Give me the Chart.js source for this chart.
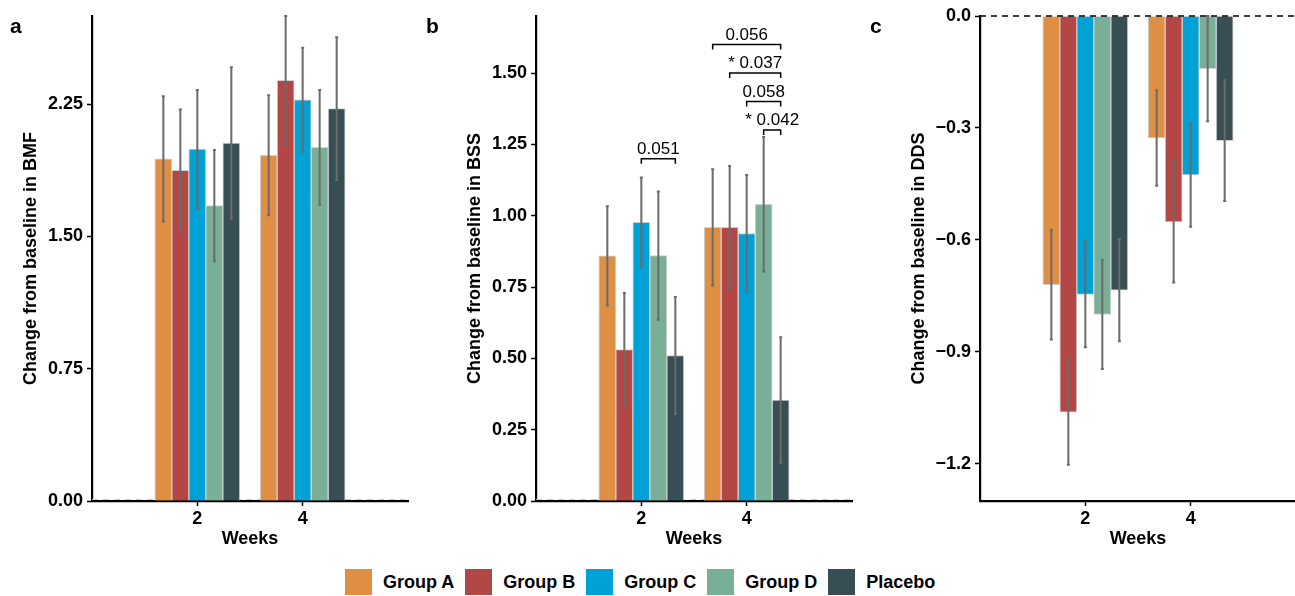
<!DOCTYPE html>
<html>
<head>
<meta charset="utf-8">
<script src="https://cdn.jsdelivr.net/npm/chart.js@4.4.0/dist/chart.umd.min.js"></script>
<style>
  html, body { margin: 0; padding: 0; background: #fff; overflow: hidden; }
  #page { position: relative; width: 1295px; height: 596px; overflow: hidden; font-family: "Liberation Sans", Arial, sans-serif; color: #000; }
  .panel { position: absolute; top: 0; }
  .tag { position: absolute; top: 15px; font-weight: bold; font-size: 21px; line-height: 1; }
  #legend { position: absolute; left: 345px; top: 569px; height: 26px; display: flex; align-items: center; font-weight: bold; font-size: 18px; }
  #legend .box { width: 27px; height: 26px; margin-right: 11px; }
  #legend .lab { margin-right: 11px; white-space: nowrap; }
</style>
</head>
<body>
<div id="page">
  <canvas id="chartA" class="panel" style="left:0px" width="420" height="560"></canvas>
  <canvas id="chartB" class="panel" style="left:444px" width="420" height="560"></canvas>
  <canvas id="chartC" class="panel" style="left:888px" width="420" height="560"></canvas>
  <div class="tag" style="left:10px">a</div>
  <div class="tag" style="left:426px">b</div>
  <div class="tag" style="left:870px">c</div>
  <div id="legend"></div>
</div>
<script>
const weeks = [2, 4];
const groups = ['Group A', 'Group B', 'Group C', 'Group D', 'Placebo'];
const groupColors = ['#DF8F44', '#B24745', '#00A1D5', '#79AF97', '#374E55'];

// panel a - BMF, one row per group: [week 2, week 4]
const bmfMean = [[1.94, 1.96], [1.875, 2.385], [1.995, 2.275], [1.675, 2.005], [2.03, 2.225]];
const bmfErr = [[0.355, 0.34], [0.345, 0.365], [0.335, 0.295], [0.315, 0.325], [0.43, 0.405]];
const bmfTicks = [0, 0.75, 1.5, 2.25];

// panel b - BSS
const bssMean = [[0.859, 0.959], [0.531, 0.959], [0.977, 0.937], [0.86, 1.04], [0.51, 0.354]];
const bssErr = [[0.174, 0.204], [0.198, 0.215], [0.157, 0.206], [0.225, 0.236], [0.205, 0.22]];
const bssTicks = [0, 0.25, 0.5, 0.75, 1.0, 1.25, 1.5];

// panel c - DDS
const ddsMean = [[-0.72, -0.327], [-1.062, -0.552], [-0.746, -0.426], [-0.80, -0.141], [-0.735, -0.334]];
const ddsErr = [[0.147, 0.128], [0.141, 0.162], [0.142, 0.139], [0.146, 0.141], [0.137, 0.162]];
const ddsTicks = [0, -0.3, -0.6, -0.9, -1.2];

// p-value brackets on panel b
const pWeek = [0, 1, 1, 1, 1];      // index into weeks
const pFrom = [2, 0, 1, 2, 3];      // group index
const pTo = [4, 4, 4, 4, 4];
const pLevel = [1.2, 1.6, 1.5, 1.4, 1.3];
const pLabel = ['0.051', '0.056', '* 0.037', '0.058', '* 0.042'];

const FONT = '"Liberation Sans", Arial, sans-serif';
Chart.defaults.font.family = FONT;
Chart.defaults.color = '#000';

function errorBars(errs) {
    return {
        id: 'errorBars',
        afterDatasetsDraw(chart) {
            const ctx = chart.ctx;
            const y = chart.scales.y;
            ctx.save();
            ctx.strokeStyle = '#6b6b6b';
            ctx.lineWidth = 2;
            chart.data.datasets.forEach((ds, i) => {
                chart.getDatasetMeta(i).data.forEach((bar, k) => {
                    const v = ds.data[k].y;
                    const top = y.getPixelForValue(v + errs[i][k]);
                    const bot = y.getPixelForValue(v - errs[i][k]);
                    ctx.beginPath();
                    ctx.moveTo(bar.x, top);
                    ctx.lineTo(bar.x, bot);
                    ctx.moveTo(bar.x - 1.5, top);
                    ctx.lineTo(bar.x + 1.5, top);
                    ctx.moveTo(bar.x - 1.5, bot);
                    ctx.lineTo(bar.x + 1.5, bot);
                    ctx.stroke();
                });
            });
            ctx.restore();
        }
    };
}

function zeroLine(color, onTop) {
    const draw = chart => {
        const ctx = chart.ctx;
        const area = chart.chartArea;
        const y0 = chart.scales.y.getPixelForValue(0) + (onTop ? 0 : -1.5);
        ctx.save();
        ctx.strokeStyle = color;
        ctx.lineWidth = onTop ? 1.3 : 1;
        ctx.setLineDash([6, 5]);
        ctx.beginPath();
        ctx.moveTo(area.left, y0);
        ctx.lineTo(area.right, y0);
        ctx.stroke();
        ctx.restore();
    };
    return onTop ? { id: 'zeroLine', afterDatasetsDraw: draw } : { id: 'zeroLine', beforeDatasetsDraw: draw };
}

const brackets = {
    id: 'brackets',
    afterDatasetsDraw(chart) {
        const ctx = chart.ctx;
        const y = chart.scales.y;
        ctx.save();
        ctx.strokeStyle = '#000';
        ctx.lineWidth = 1.5;
        ctx.fillStyle = '#000';
        ctx.font = '17px ' + FONT;
        ctx.textAlign = 'center';
        ctx.textBaseline = 'alphabetic';
        pLabel.forEach((label, n) => {
            const x1 = chart.getDatasetMeta(pFrom[n]).data[pWeek[n]].x;
            const x2 = chart.getDatasetMeta(pTo[n]).data[pWeek[n]].x;
            const yy = y.getPixelForValue(pLevel[n]);
            ctx.beginPath();
            ctx.moveTo(x1, yy + 5);
            ctx.lineTo(x1, yy);
            ctx.lineTo(x2, yy);
            ctx.lineTo(x2, yy + 5);
            ctx.stroke();
            ctx.fillText(label, (x1 + x2) / 2, yy - 5);
        });
        ctx.restore();
    }
};

function makeChart(id, means, errs, ticks, yMin, yMax, decimals, yTitle, extraPlugins) {
    const tickFont = { size: 18, weight: 'bold' };
    return new Chart(document.getElementById(id), {
        type: 'bar',
        data: {
            datasets: groups.map((g, i) => ({
                label: g,
                data: weeks.map((w, k) => ({ x: w, y: means[i][k] })),
                backgroundColor: groupColors[i],
                borderColor: 'rgba(205,205,205,0.9)',
                borderWidth: 1,
                barThickness: 17
            }))
        },
        options: {
            responsive: false,
            animation: false,
            layout: { padding: { top: 16, right: 12, left: 0, bottom: 0 } },
            plugins: { legend: { display: false }, tooltip: { enabled: false } },
            scales: {
                x: {
                    type: 'linear',
                    min: 0,
                    max: 6,
                    offset: false,
                    afterBuildTicks: axis => { axis.ticks = weeks.map(v => ({ value: v })); },
                    afterFit: s => { s.height = 59; },
                    grid: { offset: false, drawOnChartArea: false, tickLength: 5, tickWidth: 1.5, tickColor: '#000' },
                    border: { color: '#000', width: 2.2 },
                    ticks: { font: tickFont, padding: 2, color: '#000' },
                    title: { display: true, text: 'Weeks', font: tickFont, padding: { bottom: 10 }, color: '#000' }
                },
                y: {
                    min: yMin,
                    max: yMax,
                    afterBuildTicks: axis => { axis.ticks = ticks.map(v => ({ value: v })); },
                    afterFit: s => { s.width = 92; },
                    grid: { drawOnChartArea: false, tickLength: 5, tickWidth: 1.5, tickColor: '#000' },
                    border: { color: '#000', width: 2.2 },
                    ticks: {
                        font: tickFont,
                        padding: 4,
                        color: '#000',
                        autoSkip: false,
                        callback: v => v.toFixed(decimals).replace('-', '\u2212')
                    },
                    title: { display: true, text: yTitle, font: tickFont, padding: { top: 20 }, color: '#000' }
                }
            }
        },
        plugins: [errorBars(errs)].concat(extraPlugins)
    });
}

makeChart('chartA', bmfMean, bmfErr, bmfTicks, 0, 2.75, 2, 'Change from baseline in BMF', [zeroLine('#c8c8c8', false)]);
makeChart('chartB', bssMean, bssErr, bssTicks, 0, 1.7, 2, 'Change from baseline in BSS', [zeroLine('#c8c8c8', false), brackets]);
makeChart('chartC', ddsMean, ddsErr, ddsTicks, -1.3, 0, 1, 'Change from baseline in DDS', [zeroLine('#000', true)]);

const legend = document.getElementById('legend');
groups.forEach((g, i) => {
    const box = document.createElement('div');
    box.className = 'box';
    box.style.background = groupColors[i];
    const lab = document.createElement('div');
    lab.className = 'lab';
    lab.textContent = g;
    legend.appendChild(box);
    legend.appendChild(lab);
});
</script>
</body>
</html>
